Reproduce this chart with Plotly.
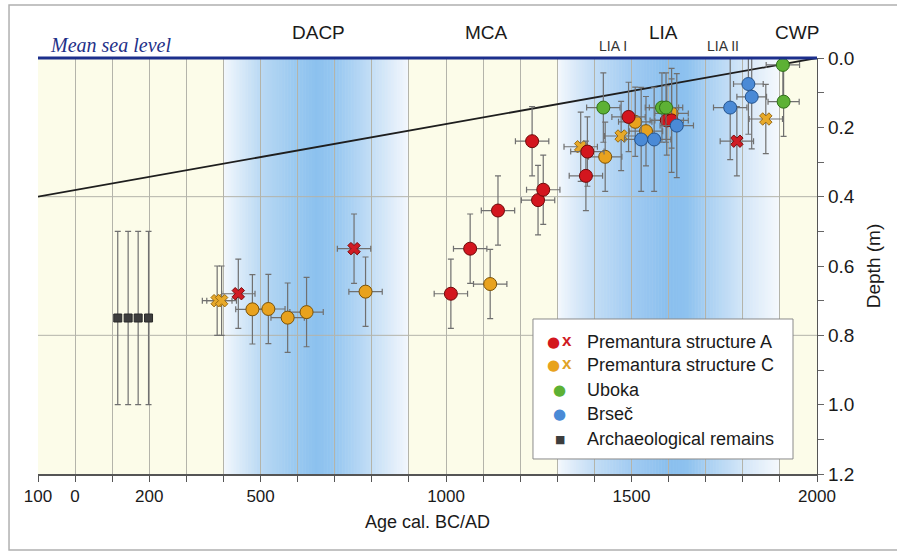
import plotly.graph_objects as go
import numpy as np

# ---------------- data ----------------
# Premantura structure A (circles)
pa_years = [1013, 1065, 1140, 1232, 1248, 1262, 1377, 1381, 1492, 1595, 1608]
pa_depth = [0.68, 0.55, 0.44, 0.24, 0.41, 0.38, 0.34, 0.27, 0.17, 0.18, 0.18]
pa_dy    = [0.10, 0.10, 0.10, 0.10, 0.10, 0.10, 0.10, 0.10, 0.10, 0.10, 0.15]
pa_dx    = [45, 45, 45, 45, 45, 45, 45, 45, 45, 45, 45]
# Premantura structure A (crosses)
pax_years = [440, 752, 1784]
pax_depth = [0.68, 0.55, 0.24]
pax_dy    = [0.10, 0.10, 0.10]
pax_dx    = [45, 45, 45]
# Premantura structure C (circles)
pc_years = [478, 521, 573, 624, 783, 1119, 1429, 1510, 1539, 1608]
pc_depth = [0.725, 0.724, 0.749, 0.733, 0.674, 0.652, 0.285, 0.184, 0.211, 0.16]
pc_dy    = [0.10, 0.10, 0.10, 0.10, 0.10, 0.10, 0.10, 0.10, 0.10, 0.10]
pc_dx    = [45, 45, 45, 45, 45, 45, 45, 45, 45, 45]
# Premantura structure C (crosses)
pcx_years = [383, 395, 1363, 1472, 1862]
pcx_depth = [0.70, 0.70, 0.256, 0.225, 0.176]
pcx_dy    = [0.10, 0.10, 0.10, 0.10, 0.10]
pcx_dx    = [40, 40, 45, 45, 45]
# Uboka
ub_years = [1424, 1582, 1593, 1908, 1910]
ub_depth = [0.143, 0.143, 0.143, 0.02, 0.126]
ub_dy    = [0.10, 0.10, 0.10, 0.10, 0.10]
ub_dx    = [45, 45, 45, 45, 42]
# Brseč
br_years = [1526, 1561, 1622, 1766, 1815, 1824]
br_depth = [0.235, 0.235, 0.195, 0.143, 0.075, 0.112]
br_dy    = [0.15, 0.15, 0.15, 0.15, 0.145, 0.15]
br_dx    = [45, 45, 45, 45, 40, 40]
# Archaeological remains
ar_years = [115, 143, 170, 198]
ar_depth = [0.75, 0.75, 0.75, 0.75]
ar_dy    = [0.25, 0.25, 0.25, 0.25]

# sea-level trend
trend_years = [-100, 2000]
trend_depth = [0.40, 0.00]

# climatic periods
period_labels = ["DACP", "MCA", "LIA", "CWP"]
period_centers = [655, 1110, 1585, 1946]
sub_labels = ["LIA I", "LIA II"]
sub_centers = [1450, 1747]

# axis ticks
x_tickvals = [-100, 0, 200, 500, 1000, 1500, 2000]
x_ticktext = ["100", "0", "200", "500", "1000", "1500", "2000"]
y_tickvals = [0.0, 0.2, 0.4, 0.6, 0.8, 1.0, 1.2]

# cold-period shading bands (year stops, colours)
dacp_stops = [400, 450, 500, 600, 650, 700, 800, 900]
dacp_cols = ["#f3f8fd", "#d6e8f8", "#bad9f4", "#98c8f0", "#8cc1ef", "#96c7f0", "#c4def6", "#f4f8fd"]
lia_stops = [1300, 1350, 1400, 1500, 1600, 1650, 1700, 1800, 1900]
lia_cols = ["#f4f8fd", "#d9e9f9", "#c2ddf5", "#a1cbf2", "#8abfee", "#8ec2ef", "#a7cff2", "#d3e6f8", "#f6f9fd"]

FONT = "Liberation Sans, Arial, sans-serif"

def hex2rgb(h):
    h = h.lstrip('#')
    return np.array([int(h[i:i + 2], 16) for i in (0, 2, 4)], dtype=float)

def band_shapes(stops, cols, step=4):
    rgb = np.array([hex2rgb(c) for c in cols])
    shapes = []
    xs = np.arange(stops[0], stops[-1], step)
    for x0 in xs:
        xc = x0 + step / 2
        c = [np.interp(xc, stops, rgb[:, k]) for k in range(3)]
        shapes.append(dict(type="rect", xref="x", yref="paper", x0=x0, x1=min(x0 + step + 1.5, stops[-1]),
                           y0=0, y1=1, fillcolor="rgb(%d,%d,%d)" % tuple(int(round(v)) for v in c),
                           line=dict(width=0), layer="below"))
    return shapes

fig = go.Figure()

ebar_col = "#707070"

def add_series(x, y, dx, dy, symbol, color, lcolor, size, lw=1):
    err_x = dict(type="data", array=dx, color=ebar_col, thickness=1.2, width=3) if dx is not None else dict(visible=False)
    fig.add_trace(go.Scatter(
        x=x, y=y, mode="markers", showlegend=False, cliponaxis=False,
        marker=dict(symbol=symbol, size=size, color=color, line=dict(color=lcolor, width=lw)),
        error_y=dict(type="data", array=dy, color=ebar_col, thickness=1.2, width=3),
        error_x=err_x,
    ))

# trend line
fig.add_trace(go.Scatter(x=trend_years, y=trend_depth, mode="lines",
                         line=dict(color="#1e1e1e", width=1.8), showlegend=False, hoverinfo="skip"))

add_series(ar_years, ar_depth, None, ar_dy, "square", "#3d3d3d", "#2a2a2a", 8)
add_series(pcx_years, pcx_depth, pcx_dx, pcx_dy, "x", "#e7a92a", "#9a6a10", 11)
add_series(pax_years, pax_depth, pax_dx, pax_dy, "x", "#d01c24", "#7a0a0a", 11)
add_series(pc_years, pc_depth, pc_dx, pc_dy, "circle", "#e8a21e", "#7a5208", 13)
add_series(pa_years, pa_depth, pa_dx, pa_dy, "circle", "#d3161e", "#6e0a0a", 13)
add_series(br_years, br_depth, br_dx, br_dy, "circle", "#4a8ad6", "#24548e", 13)
add_series(ub_years, ub_depth, ub_dx, ub_dy, "circle", "#5db134", "#2f6e18", 13)

shapes = []
shapes += band_shapes(dacp_stops, dacp_cols)
shapes += band_shapes(lia_stops, lia_cols)
# horizontal grid lines at 0.4 and 0.8
for gy in [0.4, 0.8]:
    shapes.append(dict(type="line", xref="paper", yref="y", x0=0, x1=1, y0=gy, y1=gy,
                       line=dict(color="#b4b4aa", width=1), layer="below"))
# mean sea level line
shapes.append(dict(type="line", xref="paper", yref="paper", x0=0, x1=1, y0=1, y1=1,
                   line=dict(color="#1c2f8c", width=3), layer="above"))
# outer frame
shapes.append(dict(type="rect", xref="paper", yref="paper", x0=-0.0372, x1=1.2, y0=-0.1827, y1=1.1274,
                   line=dict(color="#b0b0b0", width=1.5), layer="above"))
# legend box
shapes.append(dict(type="rect", xref="paper", yref="paper", x0=0.6354, x1=0.9692, y0=0.0361, y1=0.3726,
                   fillcolor="white", line=dict(color="#8a8a8a", width=1), layer="above"))

annotations = []
for lab, xc in zip(period_labels, period_centers):
    annotations.append(dict(text=lab, x=xc, xref="x", y=1.0625, yref="paper", showarrow=False,
                            font=dict(family=FONT, size=19, color="#1a1a1a"), xanchor="center", yanchor="middle"))
for lab, xc in zip(sub_labels, sub_centers):
    annotations.append(dict(text=lab, x=xc, xref="x", y=1.029, yref="paper", showarrow=False,
                            font=dict(family=FONT, size=14, color="#333333"), xanchor="center", yanchor="middle"))
annotations.append(dict(text="<i>Mean sea level</i>", x=0.0128, xref="paper", y=1.031, yref="paper",
                        showarrow=False, xanchor="left", yanchor="middle",
                        font=dict(family="Liberation Serif, Times New Roman, serif", size=20, color="#1f3189")))

# custom legend
leg_rows = [0.318, 0.262, 0.202, 0.1435, 0.0834]
leg_text = ["Premantura structure A", "Premantura structure C", "Uboka", "Brseč", "Archaeological remains"]
for yy, t in zip(leg_rows, leg_text):
    annotations.append(dict(text=t, x=0.7022, xref="paper", y=yy, yref="paper", showarrow=False,
                            xanchor="left", yanchor="middle", font=dict(family=FONT, size=18, color="#1a1a1a")))
leg_dot = [("●", "#d3161e", 0.6615, 15), ("●", "#e8a21e", 0.6615, 15), ("●", "#5db134", 0.670, 15),
           ("●", "#4a8ad6", 0.670, 15), ("■", "#3d3d3d", 0.670, 11)]
for (g, c, xx, s), yy in zip(leg_dot, leg_rows):
    annotations.append(dict(text=g, x=xx, xref="paper", y=yy, yref="paper", showarrow=False,
                            xanchor="center", yanchor="middle", font=dict(family="DejaVu Sans", size=s, color=c)))
for c, yy in [("#d01c24", leg_rows[0]), ("#e0a328", leg_rows[1])]:
    annotations.append(dict(text="<b>x</b>", x=0.6787, xref="paper", y=yy + 0.003, yref="paper", showarrow=False,
                            xanchor="center", yanchor="middle", font=dict(family="Liberation Sans", size=17, color=c)))

fig.update_layout(
    width=897, height=554,
    margin=dict(l=38, r=80, t=58, b=80),
    paper_bgcolor="white", plot_bgcolor="#fcfce9",
    shapes=shapes, annotations=annotations,
    showlegend=False,
    font=dict(family=FONT, size=17, color="#1a1a1a"),
    xaxis=dict(range=[-100, 2000], tickvals=x_tickvals, ticktext=x_ticktext,
               ticks="outside", ticklen=6, tickcolor="#555", tickwidth=1,
               showline=True, linecolor="#555", linewidth=1.5,
               showgrid=True, gridcolor="#b4b4aa", gridwidth=1, zeroline=False,
               minor=dict(dtick=100, tick0=0, ticks="outside", ticklen=6, tickcolor="#555",
                          showgrid=True, gridcolor="#b4b4aa", gridwidth=1),
               title=dict(text="Age cal. BC/AD", font=dict(size=18), standoff=10),
               tickfont=dict(size=17)),
    yaxis=dict(range=[1.2, 0], side="right", tickvals=y_tickvals, tickformat=".1f",
               ticks="outside", ticklen=6, tickcolor="#666", showgrid=False, zeroline=False,
               showline=True, linecolor="#555", linewidth=1.2,
               minor=dict(dtick=0.1, tick0=0, ticks="outside", ticklen=6, tickcolor="#666", showgrid=False),
               title=dict(text="Depth (m)", font=dict(size=19), standoff=12),
               tickfont=dict(size=19)),
)

fig.write_html("out.html", config={"displayModeBar": False},
               post_script="document.body.style.margin='0';document.body.style.overflow='hidden';")
